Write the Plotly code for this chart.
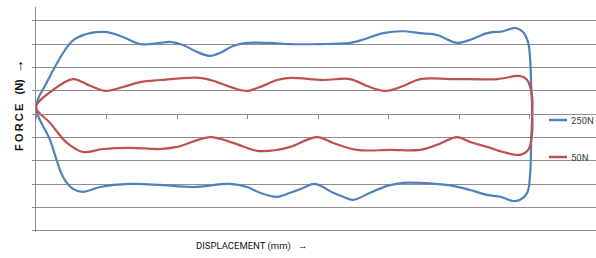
import plotly.graph_objects as go

# Displacement (x) and force (y), in grid units.
# Each series is one closed loop: upper branch left->right, then lower branch right->left.
disp_250 = [0, 0.156, 0.340, 0.440, 0.553, 0.766, 1.007, 1.234, 1.475, 1.617, 1.759, 1.901,
            2.085, 2.284, 2.468, 2.610, 2.794, 2.993, 3.319, 3.603, 4.028, 4.454, 4.667,
            4.922, 5.206, 5.447, 5.688, 5.844, 5.972, 6.156, 6.397, 6.624, 6.794, 6.908,
            6.979, 7.007, 7.021, 7.035, 7.021, 7.007, 6.965, 6.865, 6.766, 6.582, 6.397,
            6.156, 5.915, 5.447, 5.206, 4.979, 4.738, 4.496, 4.355, 4.213, 3.957, 3.787,
            3.603, 3.418, 3.177, 2.993, 2.752, 2.227, 1.759, 1.333, 0.908, 0.667, 0.525,
            0.383, 0.199, 0]
force_250 = [0.30, 1.38, 2.41, 2.88, 3.23, 3.48, 3.52, 3.31, 3.01, 3.01, 3.06, 3.10,
             2.97, 2.67, 2.50, 2.63, 2.93, 3.06, 3.06, 3.01, 3.01, 3.06, 3.23,
             3.48, 3.56, 3.48, 3.40, 3.19, 3.06, 3.19, 3.48, 3.56, 3.70, 3.52,
             3.06, 2.33, 1.26, 0.06, -1.10, -2.52, -3.37, -3.67, -3.72, -3.54, -3.46,
             -3.25, -3.07, -2.94, -2.94, -3.07, -3.37, -3.67, -3.54, -3.37, -2.99, -3.16,
             -3.37, -3.54, -3.37, -3.12, -2.99, -3.12, -3.03, -2.99, -3.12, -3.33, -3.20,
             -2.69, -1.10, 0.30]

disp_50 = [0, 0.241, 0.525, 0.738, 0.979, 1.234, 1.475, 1.759, 2.326, 2.567, 2.794, 2.993,
           3.177, 3.418, 3.603, 4.071, 4.454, 4.695, 4.950, 5.206, 5.447, 5.915, 6.539,
           6.865, 6.965, 7.035, 7.035, 7.035, 6.979, 6.865, 6.624, 6.397, 6.156, 5.972,
           5.688, 5.447, 5.021, 4.553, 4.213, 3.986, 3.603, 3.418, 3.135, 2.794, 2.468,
           2.000, 1.759, 1.333, 0.950, 0.667, 0.440, 0.199, 0]
force_50 = [0.30, 1.04, 1.51, 1.26, 1.00, 1.17, 1.38, 1.47, 1.56, 1.38, 1.13, 1.00,
            1.17, 1.47, 1.56, 1.47, 1.51, 1.21, 1.00, 1.21, 1.51, 1.51, 1.51,
            1.64, 1.47, 0.74, 0.06, -0.80, -1.53, -1.74, -1.62, -1.40, -1.19, -0.98,
            -1.31, -1.53, -1.53, -1.53, -1.23, -0.98, -1.40, -1.53, -1.57, -1.23, -0.98,
            -1.40, -1.49, -1.44, -1.49, -1.62, -1.23, -0.37, 0.30]

series_names = ["250N", "50N"]
series_colors = ["#4F81BD", "#C0504D"]

fig = go.Figure()
for name, xs, ys, col in zip(series_names, [disp_250, disp_50], [force_250, force_50], series_colors):
    fig.add_trace(go.Scatter(
        x=xs, y=ys, mode="lines", name=name, showlegend=False,
        line=dict(color=col, width=2.2, shape="spline", smoothing=1.0),
    ))

Y_LO, Y_HI = -5.05, 4.60
PH = 225  # plot height in px

def py(y_ref):
    return (232 - y_ref) / PH

def px(x_ref):
    return (x_ref - 36) / 560

narrow = "Roboto, Liberation Sans, sans-serif"

# Legend drawn as short line samples + labels (Excel-style short keys)
legend_rows = [120, 157]
shapes = []
annotations = []
for name, col, yr in zip(series_names, series_colors, legend_rows):
    shapes.append(dict(type="line", xref="paper", yref="paper",
                       x0=px(549), x1=px(567), y0=py(yr), y1=py(yr),
                       line=dict(color=col, width=2.5)))
    annotations.append(dict(text=name, xref="paper", yref="paper", x=px(568.5), y=py(yr),
                            xanchor="left", yanchor="middle", showarrow=False,
                            font=dict(family=narrow, size=9.5, color="#333F50")))

annotations += [
    dict(text="<b>F\u2009O\u2009R\u2009C\u2009E&nbsp;&nbsp;&nbsp;(N)&nbsp;&nbsp;<span style='font-size:14px'>→</span></b>",
         xref="paper", yref="paper", x=px(18), y=py(105), xanchor="center", yanchor="middle",
         textangle=-90, showarrow=False,
         font=dict(family="Liberation Sans, Arial, sans-serif", size=11, color="#111111")),
    dict(text="DISPLACEMENT (mm)&nbsp;&nbsp;&nbsp;<b>→</b>", xref="paper", yref="paper",
         x=px(251), y=py(246), xanchor="center", yanchor="middle", showarrow=False,
         font=dict(family=narrow, size=9.5, color="#111111")),
]

grid_col = "#8E8E8E"
fig.update_layout(
    width=596, height=258,
    margin=dict(l=36, r=0, t=7, b=26, autoexpand=False),
    paper_bgcolor="white", plot_bgcolor="white",
    showlegend=False,
    xaxis=dict(
        range=[0, 7.94], showgrid=False, zeroline=False,
        showticklabels=False, showline=True, linecolor=grid_col, linewidth=1,
        ticks="outside", ticklen=4, tickcolor=grid_col, tick0=0, dtick=1,
        anchor="free", position=-Y_LO / (Y_HI - Y_LO),
    ),
    yaxis=dict(
        range=[Y_LO, Y_HI], showgrid=True, gridcolor=grid_col, gridwidth=1,
        zeroline=False, showticklabels=False, showline=True, linecolor=grid_col,
        linewidth=1, ticks="outside", ticklen=3, tickcolor=grid_col, tick0=0, dtick=1,
    ),
    shapes=shapes,
    annotations=annotations,
)

fig.write_html(
    "out.html",
    config={"displayModeBar": False},
    post_script="document.body.style.margin='0';document.body.style.overflow='hidden';",
)
